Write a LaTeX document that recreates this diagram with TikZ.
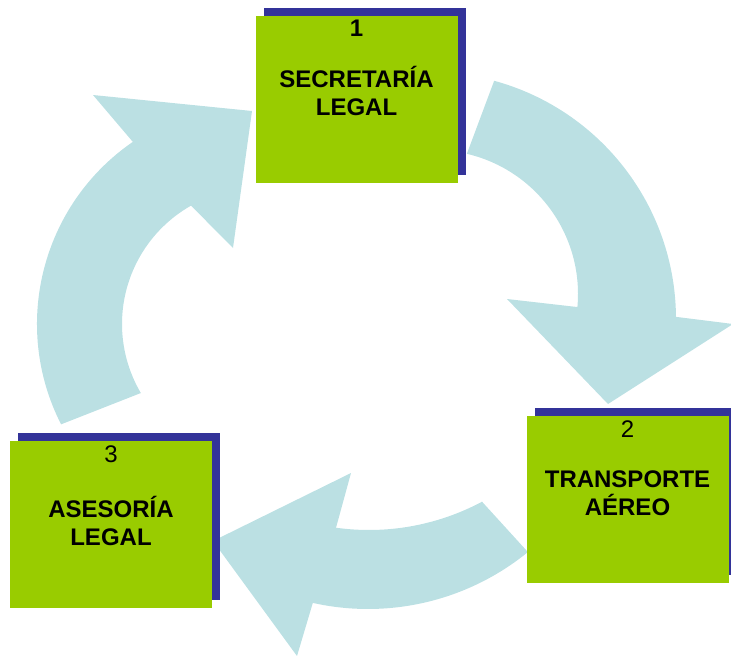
\documentclass[tikz,border=0pt]{standalone}
\usepackage{fontspec}
\setmainfont{Liberation Sans}
\usetikzlibrary{positioning,shadows}
\definecolor{stagegreen}{HTML}{99CC00}
\definecolor{stageblue}{HTML}{333399}
\definecolor{cyclefill}{HTML}{BBE0E3}
\tikzset{
  stage/.style={fill=stagegreen, minimum width=202pt, minimum height=167pt, inner sep=0pt,
    general shadow={fill=stageblue, shadow xshift=8pt, shadow yshift=8pt}},
  stagetext/.style={align=center, inner sep=0pt, font=\fontsize{24}{28}\selectfont\bfseries},
  cyclearrow/.style={fill=cyclefill}
}
\begin{document}
\begin{tikzpicture}[x=1pt,y=-1pt]
\useasboundingbox (0,0) rectangle (731,656);
\coordinate (cL) at (258,324);
\coordinate (cRo) at (429,319);
\coordinate (cRi) at (434,294);
\coordinate (cBo) at (368,356);
\coordinate (cBi) at (369,290);
% 3 -> 1
\fill[cyclearrow]
     ([shift={(153:221)}]cL) arc[start angle=153, end angle=235.5, radius=221]
  -- (93,95) -- (252,111) -- (233,248)
  -- ([shift={(240.5:136)}]cL) arc[start angle=240.5, end angle=149.5, radius=136]
  -- cycle;
% 1 -> 2
\fill[cyclearrow]
     ([shift={(285.3:247)}]cRo) arc[start angle=285.3, end angle=359.5, radius=247]
  -- (733,324) -- (608,404) -- (507,299)
  -- ([shift={(5.2:144)}]cRi) arc[start angle=365.2, end angle=283.2, radius=144]
  -- cycle;
% 2 -> 3
\fill[cyclearrow]
     ([shift={(61.9:240)}]cBi) arc[start angle=61.9, end angle=97.9, radius=240]
  -- (351,473) -- (213,541) -- (297,656)
  -- ([shift={(102.6:253)}]cBo) arc[start angle=102.6, end angle=50.8, radius=253]
  -- cycle;
\node[stage] (secretaria) at (356.5,99.5) {};
\node[stage] (transporte) at (627.5,499.5) {};
\node[stage] (asesoria) at (111,524.5) {};
\node[stagetext, below=4pt of secretaria.north] (secretaria-t) {1\\[23pt]SECRETARÍA\\LEGAL};
\node[stagetext, below=5pt of transporte.north] (transporte-t) {{\mdseries 2}\\[22pt]TRANSPORTE\\AÉREO};
\node[stagetext, below=5pt of asesoria.north] (asesoria-t) {{\mdseries 3}\\[27pt]ASESORÍA\\LEGAL};
\end{tikzpicture}
\end{document}
